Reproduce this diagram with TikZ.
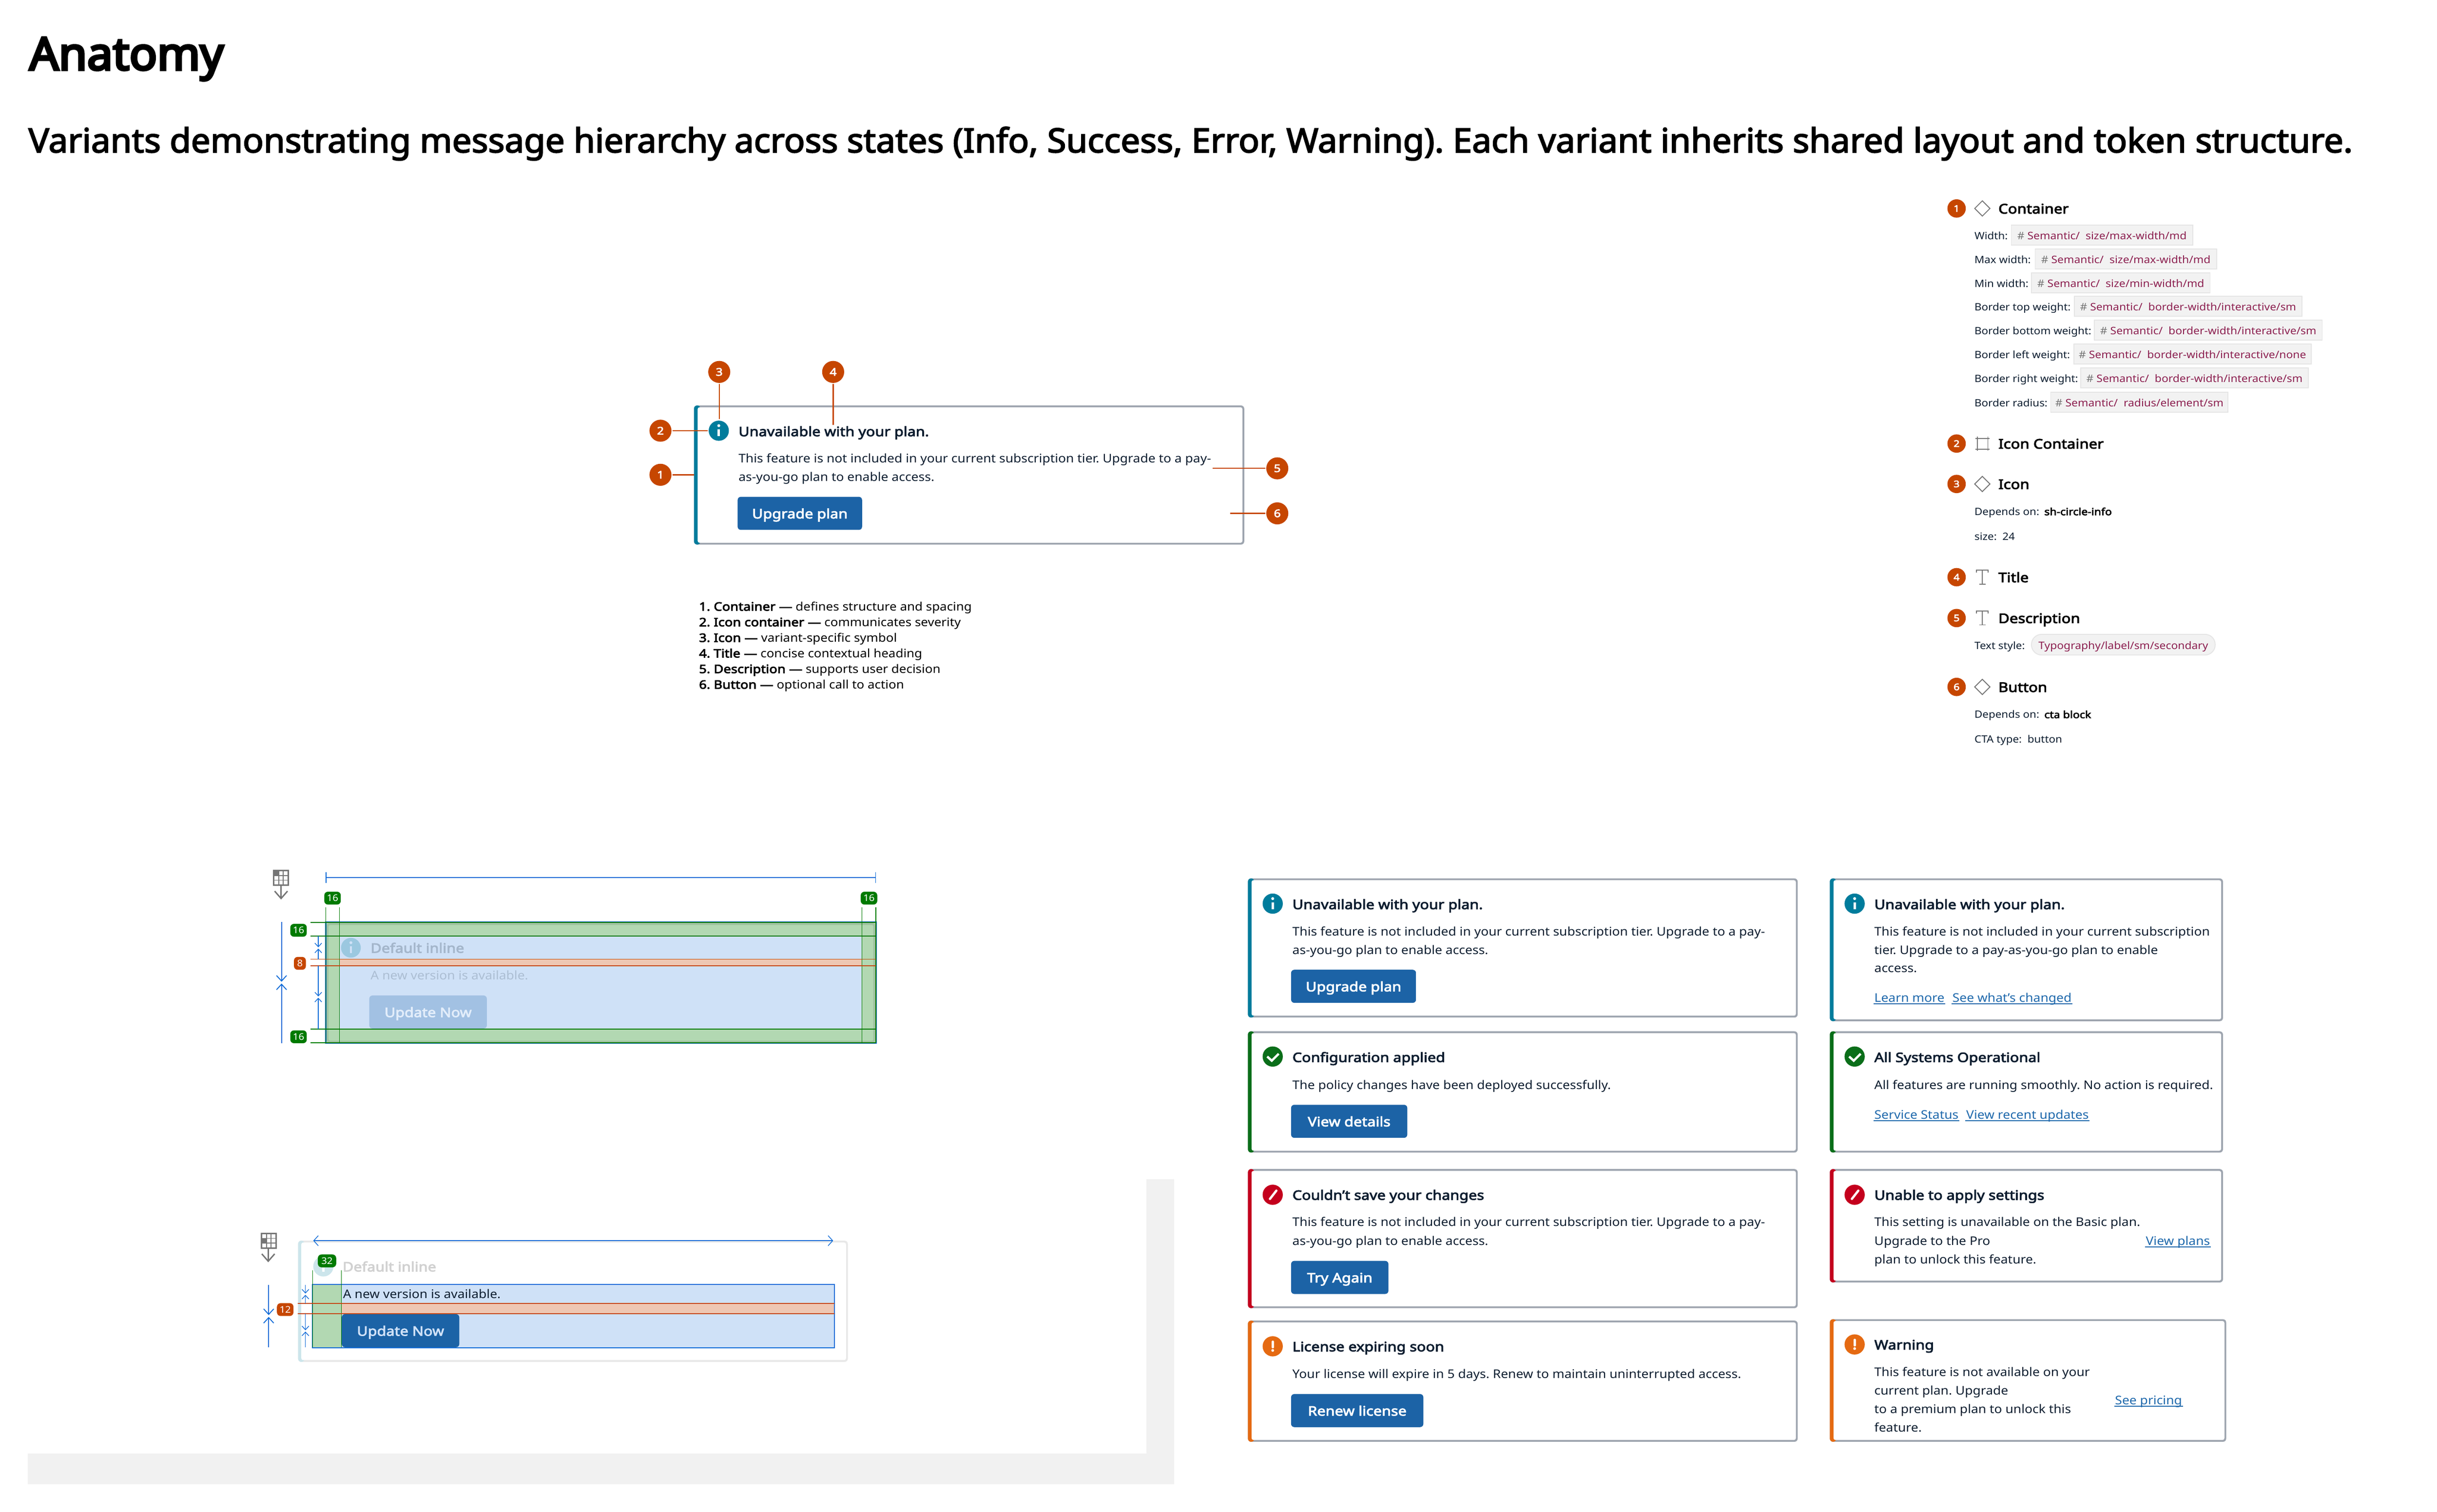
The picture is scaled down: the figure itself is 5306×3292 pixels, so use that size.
\documentclass[tikz,border=0pt]{standalone}
\usepackage{fontspec}
\setmainfont{Noto Sans}[FakeStretch=1.08,BoldFont={Noto Sans},BoldFeatures={FakeBold=3.5,FakeStretch=1.14}]
\newfontface\headfont{Noto Sans}[FakeBold=5.5,FakeStretch=1.02]
\newfontface\subfont{Noto Sans}[FakeBold=3,FakeStretch=1.03]
\usetikzlibrary{shapes.geometric,arrows.meta}
\definecolor{bandgray}{HTML}{F1F1F1}
\definecolor{framegray}{HTML}{9EA5AF}
\definecolor{infoteal}{HTML}{007C9C}
\definecolor{okgreen}{HTML}{0A6E19}
\definecolor{errred}{HTML}{C4001D}
\definecolor{warnorange}{HTML}{E56A12}
\definecolor{pinorange}{HTML}{C64600}
\definecolor{btnblue}{HTML}{1C63A6}
\definecolor{linkblue}{HTML}{1F69AC}
\definecolor{inkdark}{HTML}{0E1E30}
\definecolor{chipred}{HTML}{8C2050}
\definecolor{hashgray}{HTML}{757575}
\definecolor{dimblue}{HTML}{0F6BD7}
\definecolor{dimgreen}{HTML}{007A00}
\definecolor{paleblue}{HTML}{CFE1F7}
\definecolor{palegreen}{HTML}{B2D8B2}
\definecolor{paleorange}{HTML}{EEC7B3}
\newcommand{\alertframe}[5]{
\fill[framegray,rounded corners=.7pt] (#1,#2) rectangle (#3,#4);
\fill[#5,rounded corners=.7pt] (#1,#2) rectangle ({#1+14},#4);
\fill[white,rounded corners=.4pt] ({#1+8},{#2+4}) rectangle ({#3-4},{#4-4});
}
\newcommand{\infoglyph}[3][white]{
\fill[#1] (#2,{#3-11}) circle (3.2);
\draw[#1,line width=.5pt] (#2,{#3-3}) -- (#2,{#3+12});
}
\newcommand{\checkglyph}[2]{
\draw[white,line width=.5pt] ({#1-12},#2) -- ({#1-2},{#2+9}) -- ({#1+13},{#2-6});
}
\newcommand{\slashglyph}[2]{
\draw[white,line width=.5pt,line cap=round] ({#1-6},{#2+9}) -- ({#1+8},{#2-9});
}
\newcommand{\warnglyph}[2]{
\draw[white,line width=.5pt,line cap=round] (#1,{#2-10}) -- (#1,{#2+2});
\fill[white] (#1,{#2+9}) circle (3);
}
\newcommand{\tokenrow}[6]{
\node (#1l)[rowtxt] at (4297,#2) {#3};
\node (#1c)[chip,minimum width={(#5-#4)*0.1pt}] at ({(#4+#5)/2},{#2-10}) {\textcolor{hashgray}{\#} \textcolor{chipred}{Semantic/\ \ #6}};
}
\newcommand{\tglyph}[2]{
\draw[glyphline] ({#1-13},{#2-10}) -- ({#1-13},{#2-15}) -- ({#1+13},{#2-15}) -- ({#1+13},{#2-10}) (#1,{#2-15}) -- (#1,{#2+15}) ({#1-7},{#2+15}) -- ({#1+7},{#2+15});
}
\newcommand{\gridglyph}[3]{
\fill[hashgray] (#1,#3) rectangle ({#1+11},{#3+11});
\draw[hashgray,line width=.3pt] (#1,#2) rectangle ({#1+32},{#2+32});
\draw[hashgray,line width=.2pt] ({#1+11},#2) -- ({#1+11},{#2+32}) ({#1+21},#2) -- ({#1+21},{#2+32}) (#1,{#2+11}) -- ({#1+32},{#2+11}) (#1,{#2+21}) -- ({#1+32},{#2+21});
}
\begin{document}
\frenchspacing
\begin{tikzpicture}[x=0.1pt,y=-0.1pt]
\useasboundingbox (0,0) rectangle (5306,3292);
\tikzstyle{txt}=[anchor=base west,inner sep=0pt]
\tikzstyle{badge}=[circle,fill=pinorange,text=white,inner sep=0pt,minimum size=4.8pt,font=\bfseries\fontsize{2.3}{3}\selectfont]
\tikzstyle{pin}=[pinorange,line width=.25pt]
\tikzstyle{sevdot}=[circle,inner sep=0pt,minimum size=4.4pt]
\tikzstyle{cardtitle}=[txt,text=inkdark,font=\bfseries\fontsize{2.85}{3}\selectfont]
\tikzstyle{cardbody}=[txt,text=inkdark,font=\fontsize{2.6}{3}\selectfont]
\tikzstyle{btn}=[rounded corners=.7pt,fill=btnblue,text=white,inner sep=0pt,minimum height=7.2pt,text height=2.2pt,text depth=0pt,font=\bfseries\fontsize{2.85}{3}\selectfont]
\tikzstyle{linktxt}=[txt,text=linkblue,font=\fontsize{2.6}{3}\selectfont]
\tikzstyle{linkline}=[linkblue,line width=.2pt]
\tikzstyle{legend}=[txt,text=black,font=\fontsize{2.55}{3}\selectfont]
\tikzstyle{rowtxt}=[txt,text=inkdark,font=\fontsize{2.2}{3}\selectfont]
\tikzstyle{rowbold}=[txt,text=black,font=\bfseries\fontsize{2.15}{3}\selectfont]
\tikzstyle{chip}=[draw=black!10,fill=black!5,line width=.2pt,inner sep=0pt,minimum height=4.3pt,text height=2pt,text depth=0pt,font=\fontsize{2.25}{3}\selectfont]
\tikzstyle{panelbadge}=[badge,minimum size=4pt,font=\bfseries\fontsize{2}{3}\selectfont]
\tikzstyle{panelhead}=[txt,text=black,font=\bfseries\fontsize{2.9}{3}\selectfont]
\tikzstyle{glyph}=[diamond,aspect=1,draw=hashgray,line width=.2pt,inner sep=0pt,minimum size=3.4pt]
\tikzstyle{glyphline}=[hashgray,line width=.2pt]
\tikzstyle{gtag}=[rounded corners=.8pt,fill=dimgreen,text=white,inner sep=0pt,minimum width=3.6pt,minimum height=2.8pt,font=\fontsize{2}{3}\selectfont]
\tikzstyle{otag}=[gtag,fill=pinorange]
\tikzstyle{thindim}=[dimblue,line width=.15pt]
\tikzstyle{tipdim}=[dimblue,line width=.2pt,-{Straight Barb[length=1.2pt,width=2.2pt,line width=.2pt]}]
\tikzstyle{tipsmall}=[thindim,-{Straight Barb[length=.8pt,width=1.5pt,line width=.15pt]}]
\tikzstyle{greenline}=[dimgreen,line width=.2pt]
\tikzstyle{greenthin}=[dimgreen,line width=.13pt]
\tikzstyle{orangeline}=[pinorange,line width=.2pt]
\tikzstyle{downarrow}=[hashgray,line width=.3pt,-{Straight Barb[length=1.6pt,width=2.8pt,line width=.3pt]}]

\fill[bandgray] (2496,2568) rectangle (2556,3232);
\fill[bandgray] (61,3166) rectangle (2556,3232);

\node (head)[txt,font=\headfont\fontsize{9.8}{11}\selectfont] at (62,152) {Anatomy};
\node (sub)[txt,font=\subfont\fontsize{7.3}{9}\selectfont] at (60,332) {Variants demonstrating message hierarchy across states (Info, Success, Error, Warning). Each variant inherits shared layout and token structure.};

% anatomy card
\alertframe{1511}{883}{2709}{1186}{infoteal}
\node (aicon)[sevdot,fill=infoteal] at (1565,938) {};
\infoglyph{1565}{938}
\node (atitle)[cardtitle] at (1606,950) {Unavailable with your plan.};
\node (abody1)[cardbody] at (1606,1008) {This feature is not included in your current subscription tier. Upgrade to a pay-};
\node (abody2)[cardbody] at (1606,1048) {as-you-go plan to enable access.};
\node (abtn)[btn,minimum width=27.1pt] at (1741.5,1118) {Upgrade plan};
\node (1)[badge] at (1438,1034) {1};
\node (2)[badge] at (1438,938) {2};
\node (3)[badge] at (1566,810) {3};
\node (4)[badge] at (1814,810) {4};
\node (5)[badge] at (2781,1020) {5};
\node (6)[badge] at (2781,1118) {6};
\coordinate (p1) at (1511,1034);
\coordinate (p2) at (1541,938);
\coordinate (p3) at (1566,913);
\coordinate (p4) at (1814,925);
\coordinate (p5) at (2640,1020);
\coordinate (p6) at (2678,1118);
\draw[pin] (1) -- (p1);
\draw[pin] (2) -- (p2);
\draw[pin] (3) -- (p3);
\draw[pin] (4) -- (p4);
\draw[pin] (5) -- (p5);
\draw[pin] (6) -- (p6);

\node (leg1)[legend] at (1520,1330) {\textbf{1. Container ---} defines structure and spacing};
\node (leg2)[legend] at (1520,1364) {\textbf{2. Icon container ---} communicates severity};
\node (leg3)[legend] at (1520,1398) {\textbf{3. Icon ---} variant-specific symbol};
\node (leg4)[legend] at (1520,1432) {\textbf{4. Title ---} concise contextual heading};
\node (leg5)[legend] at (1520,1466) {\textbf{5. Description ---} supports user decision};
\node (leg6)[legend] at (1520,1500) {\textbf{6. Button ---} optional call to action};

% right panel
\node (r1)[panelbadge] at (4260,454) {1};
\node (g1)[glyph] at (4316,454) {};
\node (h1)[panelhead] at (4349,465) {Container};
\tokenrow{wd}{522}{Width:}{4379}{4774}{size/max-width/md}
\tokenrow{mx}{574}{Max width:}{4431}{4826}{size/max-width/md}
\tokenrow{mn}{626}{Min width:}{4423}{4812}{size/min-width/md}
\tokenrow{bt}{677}{Border top weight:}{4516}{5012}{border-width/interactive/sm}
\tokenrow{bb}{729}{Border bottom weight:}{4560}{5056}{border-width/interactive/sm}
\tokenrow{bl}{781}{Border left weight:}{4515}{5032}{border-width/interactive/none}
\tokenrow{br}{833}{Border right weight:}{4530}{5026}{border-width/interactive/sm}
\tokenrow{rd}{886}{Border radius:}{4465}{4851}{radius/element/sm}
\node (r2)[panelbadge] at (4260,966) {2};
\draw[glyphline] (4301,955) -- (4332,955) (4301,978) -- (4332,978) (4305,951) -- (4305,982) (4328,951) -- (4328,982);
\node (h2)[panelhead] at (4349,977) {Icon Container};
\node (r3)[panelbadge] at (4260,1054) {3};
\node (g3)[glyph] at (4316,1054) {};
\node (h3)[panelhead] at (4349,1065) {Icon};
\node (d3)[rowtxt] at (4297,1122) {Depends on:};
\node (d3b)[rowbold] at (4449,1122) {sh-circle-info};
\node (s3)[rowtxt] at (4297,1176) {size:\ \ 24};
\node (r4)[panelbadge] at (4260,1257) {4};
\tglyph{4316}{1257}
\node (h4)[panelhead] at (4349,1268) {Title};
\node (r5)[panelbadge] at (4260,1346) {5};
\tglyph{4316}{1346}
\node (h5)[panelhead] at (4349,1357) {Description};
\node (t5)[rowtxt] at (4297,1414) {Text style:};
\node (t5c)[chip,rounded corners=2.2pt,minimum width=40pt,minimum height=4.5pt,text=chipred] at (4623,1404) {Typography/label/sm/secondary};
\node (r6)[panelbadge] at (4260,1496) {6};
\node (g6)[glyph] at (4316,1496) {};
\node (h6)[panelhead] at (4349,1507) {Button};
\node (d6)[rowtxt] at (4297,1564) {Depends on:};
\node (d6b)[rowbold] at (4449,1564) {cta block};
\node (c6)[rowtxt] at (4297,1618) {CTA type:\ \ button};

% first spacing spec
\gridglyph{596}{1896}{1896}
\coordinate (ga1) at (612,1928);
\coordinate (ga2) at (612,1959);
\draw[downarrow] (ga1) -- (ga2);
\coordinate (wa) at (709,1911);
\coordinate (wb) at (1907,1911);
\draw[dimblue,line width=.27pt,{Bar[width=2.3pt,line width=.15pt]}-{Bar[width=2.3pt,line width=.15pt]}] (wa) -- (wb);
\fill[paleblue] (709,2008) rectangle (1907,2271);
\fill[palegreen] (709,2009) rectangle (1907,2039);
\fill[palegreen] (709,2241) rectangle (1907,2271);
\fill[palegreen] (709,2039) rectangle (739,2241);
\fill[palegreen] (1877,2039) rectangle (1907,2241);
\fill[paleorange] (739,2089) rectangle (1877,2103);
\draw[black!20!palegreen,line width=.5pt,opacity=.5,rounded corners=.5pt] (713,2012) rectangle (1904,2269);
\node (sp1i)[sevdot,fill=infoteal!25!paleblue,minimum size=4.3pt] at (764,2064) {};
\infoglyph[paleblue]{764}{2064}
\node (sp1t)[cardtitle,text=inkdark!22!paleblue] at (805,2075) {Default inline};
\node (sp1d)[cardbody,text=inkdark!18!paleblue] at (805,2133) {A new version is available.};
\node (sp1b)[btn,fill=btnblue!25!paleblue,text=white!40!paleblue,minimum width=25.6pt] at (932,2204) {Update Now};
\draw[dimblue,line width=.3pt] (709,2008) rectangle (1908,2272);
\draw[greenthin] (709,1976) -- (709,2271) (739,1976) -- (739,2271) (1877,1976) -- (1877,2271) (1907,1976) -- (1907,2271);
\draw[greenline] (676,2009) -- (1907,2009) (676,2039) -- (1907,2039) (676,2241) -- (1907,2241) (676,2271) -- (1907,2271);
\draw[orangeline] (676,2089) -- (1907,2089) (676,2103) -- (1907,2103);
\node (sg1)[gtag] at (724,1956) {16};
\node (sg2)[gtag] at (1892,1956) {16};
\node (sg3)[gtag] at (650,2026) {16};
\node (sg4)[gtag] at (650,2258) {16};
\node (so1)[otag,minimum width=2.6pt] at (653,2098) {8};
\coordinate (la) at (613,2008);
\coordinate (lb) at (613,2138);
\coordinate (lc) at (613,2272);
\coordinate (ld) at (613,2142);
\draw[tipdim] (la) -- (lb);
\draw[tipdim] (lc) -- (ld);
\coordinate (ma) at (693,2039);
\coordinate (mb) at (693,2063);
\coordinate (mc) at (693,2089);
\coordinate (md) at (693,2066);
\coordinate (me) at (693,2103);
\coordinate (mf) at (693,2170);
\coordinate (mg) at (693,2241);
\coordinate (mh) at (693,2173);
\draw[tipsmall] (ma) -- (mb);
\draw[tipsmall] (mc) -- (md);
\draw[tipsmall] (me) -- (mf);
\draw[tipsmall] (mg) -- (mh);

% second spacing spec
\gridglyph{569}{2686}{2697}
\coordinate (gb1) at (584,2717);
\coordinate (gb2) at (584,2749);
\draw[downarrow] (gb1) -- (gb2);
\fill[black!9,rounded corners=.7pt] (649,2702) rectangle (1846,2966);
\fill[infoteal!20!white,rounded corners=.7pt] (649,2702) rectangle (663,2966);
\fill[white,rounded corners=.4pt] (656,2706) rectangle (1842,2962);
\node (sp2i)[sevdot,fill=infoteal!20!white] at (704,2758) {};
\infoglyph{704}{2758}
\node (sp2t)[cardtitle,text=black!18] at (744,2769) {Default inline};
\fill[paleblue] (680,2797) rectangle (1817,2935);
\fill[palegreen] (681,2797) rectangle (743,2935);
\fill[paleorange] (743,2839) rectangle (1817,2861);
\node (sp2d)[cardbody] at (745,2827) {A new version is available.};
\node (sp2b)[btn,text=paleblue,minimum width=25.6pt] at (872,2898) {Update Now};
\draw[dimblue,line width=.25pt] (680,2797) rectangle (1817,2935);
\draw[greenthin] (681,2766) -- (681,2934) (743,2766) -- (743,2934);
\draw[orangeline] (648,2839) -- (1817,2839) (648,2861) -- (1817,2861);
\coordinate (va) at (682,2702);
\coordinate (vb) at (1814,2702);
\draw[dimblue,line width=.27pt,{Straight Barb[length=1pt,width=2.2pt,line width=.15pt]}-{Straight Barb[length=1pt,width=2.2pt,line width=.15pt]}] (va) -- (vb);
\node (st1)[gtag,minimum width=4pt] at (712,2746) {32};
\node (st2)[otag] at (621,2852) {12};
\coordinate (na) at (585,2798);
\coordinate (nb) at (585,2864);
\coordinate (nc) at (585,2934);
\coordinate (nd) at (585,2868);
\draw[tipdim] (na) -- (nb);
\draw[tipdim] (nc) -- (nd);
\coordinate (oa) at (665,2798);
\coordinate (ob) at (665,2817);
\coordinate (oc) at (665,2839);
\coordinate (od) at (665,2820);
\coordinate (oe) at (665,2861);
\coordinate (of) at (665,2897);
\coordinate (og) at (665,2934);
\coordinate (oh) at (665,2900);
\draw[tipsmall] (oa) -- (ob);
\draw[tipsmall] (oc) -- (od);
\draw[tipsmall] (oe) -- (of);
\draw[tipsmall] (og) -- (oh);

% left column cards
\alertframe{2717}{1913}{3914}{2216}{infoteal}
\node (ai)[sevdot,fill=infoteal] at (2771,1968) {};
\infoglyph{2771}{1968}
\node (at)[cardtitle] at (2812,1980) {Unavailable with your plan.};
\node (ab1)[cardbody] at (2812,2038) {This feature is not included in your current subscription tier. Upgrade to a pay-};
\node (ab2)[cardbody] at (2812,2078) {as-you-go plan to enable access.};
\node (ab)[btn,minimum width=27.2pt] at (2947,2148) {Upgrade plan};

\alertframe{2717}{2246}{3914}{2510}{okgreen}
\node (bi)[sevdot,fill=okgreen] at (2771,2301) {};
\checkglyph{2771}{2301}
\node (bt)[cardtitle] at (2812,2313) {Configuration applied};
\node (bb1)[cardbody] at (2812,2372) {The policy changes have been deployed successfully.};
\node (bb)[btn,minimum width=25.3pt] at (2937.5,2442) {View details};

\alertframe{2717}{2546}{3914}{2849}{errred}
\node (ci)[sevdot,fill=errred] at (2771,2602) {};
\slashglyph{2771}{2602}
\node (ct)[cardtitle] at (2812,2613) {Couldn't save your changes};
\node (cb1)[cardbody] at (2812,2671) {This feature is not included in your current subscription tier. Upgrade to a pay-};
\node (cb2)[cardbody] at (2812,2712) {as-you-go plan to enable access.};
\node (cb)[btn,minimum width=21.2pt] at (2917,2782) {Try Again};

\alertframe{2717}{2876}{3914}{3140}{warnorange}
\node (di)[sevdot,fill=warnorange] at (2771,2932) {};
\warnglyph{2771}{2932}
\node (dt)[cardtitle] at (2812,2943) {License expiring soon};
\node (db1)[cardbody] at (2812,3002) {Your license will expire in 5 days. Renew to maintain uninterrupted access.};
\node (db)[btn,minimum width=28.8pt] at (2955,3072) {Renew license};

% right column cards
\alertframe{3984}{1913}{4840}{2224}{infoteal}
\node (ei)[sevdot,fill=infoteal] at (4038,1968) {};
\infoglyph{4038}{1968}
\node (et)[cardtitle] at (4079,1980) {Unavailable with your plan.};
\node (eb1)[cardbody] at (4079,2038) {This feature is not included in your current subscription};
\node (eb2)[cardbody] at (4079,2078) {tier. Upgrade to a pay-as-you-go plan to enable};
\node (eb3)[cardbody] at (4079,2118) {access.};
\node (el1)[linktxt] at (4079,2182) {Learn more};
\node (el2)[linktxt] at (4249,2182) {See what's changed};
\draw[linkline] ([yshift=-.4pt]el1.base west) -- ([yshift=-.4pt]el1.base east);
\draw[linkline] ([yshift=-.4pt]el2.base west) -- ([yshift=-.4pt]el2.base east);

\alertframe{3984}{2246}{4840}{2510}{okgreen}
\node (fi)[sevdot,fill=okgreen] at (4038,2301) {};
\checkglyph{4038}{2301}
\node (ft)[cardtitle] at (4079,2313) {All Systems Operational};
\node (fb1)[cardbody] at (4079,2372) {All features are running smoothly. No action is required.};
\node (fl1)[linktxt] at (4079,2437) {Service Status};
\node (fl2)[linktxt] at (4279,2437) {View recent updates};
\draw[linkline] ([yshift=-.4pt]fl1.base west) -- ([yshift=-.4pt]fl1.base east);
\draw[linkline] ([yshift=-.4pt]fl2.base west) -- ([yshift=-.4pt]fl2.base east);

\alertframe{3984}{2546}{4840}{2793}{errred}
\node (hi)[sevdot,fill=errred] at (4038,2602) {};
\slashglyph{4038}{2602}
\node (ht)[cardtitle] at (4079,2613) {Unable to apply settings};
\node (hb1)[cardbody] at (4079,2671) {This setting is unavailable on the Basic plan.};
\node (hb2)[cardbody] at (4079,2712) {Upgrade to the Pro};
\node (hb3)[cardbody] at (4079,2752) {plan to unlock this feature.};
\node (hl1)[linktxt] at (4670,2712) {View plans};
\draw[linkline] ([yshift=-.4pt]hl1.base west) -- ([yshift=-.4pt]hl1.base east);

\alertframe{3984}{2873}{4847}{3140}{warnorange}
\node (ki)[sevdot,fill=warnorange] at (4038,2928) {};
\warnglyph{4038}{2928}
\node (kt)[cardtitle] at (4079,2939) {Warning};
\node (kb1)[cardbody] at (4079,2997) {This feature is not available on your};
\node (kb2)[cardbody] at (4079,3038) {current plan. Upgrade};
\node (kb3)[cardbody] at (4079,3078) {to a premium plan to unlock this};
\node (kb4)[cardbody] at (4079,3118) {feature.};
\node (kl1)[linktxt] at (4603,3059) {See pricing};
\draw[linkline] ([yshift=-.4pt]kl1.base west) -- ([yshift=-.4pt]kl1.base east);
\end{tikzpicture}
\end{document}
